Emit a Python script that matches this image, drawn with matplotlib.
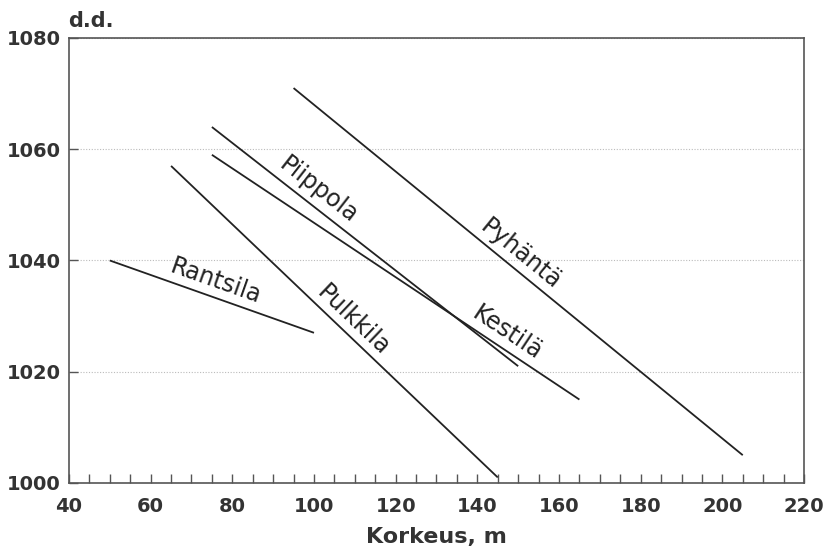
import numpy as np
import matplotlib
matplotlib.use("Agg")
import matplotlib.pyplot as plt

# line endpoints (altitude m, day-degrees)
names = ["Rantsila", "Pulkkila", "Piippola", "Kestilä", "Pyhäntä"]
alt_start = [50, 65, 75, 75, 95]
alt_end = [100, 145, 150, 165, 205]
dd_start = [1040, 1057, 1064, 1059, 1071]
dd_end = [1027, 1001, 1021, 1015, 1005]

# where the names sit along the lines
LABEL_POS = {
    "Rantsila": (75.8, 1036.2),
    "Pulkkila": (109.6, 1029.3),
    "Piippola": (101.0, 1052.7),
    "Kestilä": (147.3, 1027.0),
    "Pyhäntä": (150.5, 1041.2),
}

LINE_COLOR = "#222222"
SPINE_COLOR = "#555555"

fig = plt.figure(figsize=(8.27, 5.53), dpi=100)
ax = fig.add_axes([0.0834, 0.1266, 0.9722 - 0.0834, 0.9313 - 0.1266])

ax.set_xlim(40, 220)
ax.set_ylim(1000, 1080)

for i, name in enumerate(names):
    ax.plot([alt_start[i], alt_end[i]], [dd_start[i], dd_end[i]],
            color=LINE_COLOR, lw=1.3, solid_capstyle="butt")
    # angle in data space, converted to screen space by the transform
    ang = np.degrees(np.arctan2(dd_end[i] - dd_start[i], alt_end[i] - alt_start[i]))
    lx, ly = LABEL_POS[name]
    ax.text(lx, ly, name, rotation=ang, transform_rotates_text=True,
            rotation_mode="anchor", ha="center", va="center",
            fontsize=17, color="#222222", family="DejaVu Sans")

# ticks
ax.set_xticks(np.arange(40, 221, 20))
ax.set_xticks(np.arange(40, 221, 5), minor=True)
ax.set_yticks(np.arange(1000, 1081, 20))
ax.tick_params(axis="x", which="both", direction="in", length=6.5, width=1,
               color=SPINE_COLOR, pad=10)
ax.tick_params(axis="y", which="major", direction="in", length=6.5, width=1,
               color=SPINE_COLOR, pad=6)
for lab in ax.get_xticklabels() + ax.get_yticklabels():
    lab.set_fontsize(14)
    lab.set_fontweight("bold")
    lab.set_color("#333333")

ax.yaxis.grid(True, linestyle=(0, (1, 1.5)), color="#bbbbbb", lw=0.8)
ax.set_axisbelow(True)

for sp in ax.spines.values():
    sp.set_color(SPINE_COLOR)
    sp.set_linewidth(1.2)

ax.set_xlabel("Korkeus, m", fontsize=16, fontweight="bold", color="#333333",
              labelpad=8)
fig.text(68 / 827, 1 - 27 / 553, "d.d.", fontsize=15, fontweight="bold",
         color="#333333", ha="left", va="baseline")

fig.savefig("out.png", dpi=100, facecolor="white")
